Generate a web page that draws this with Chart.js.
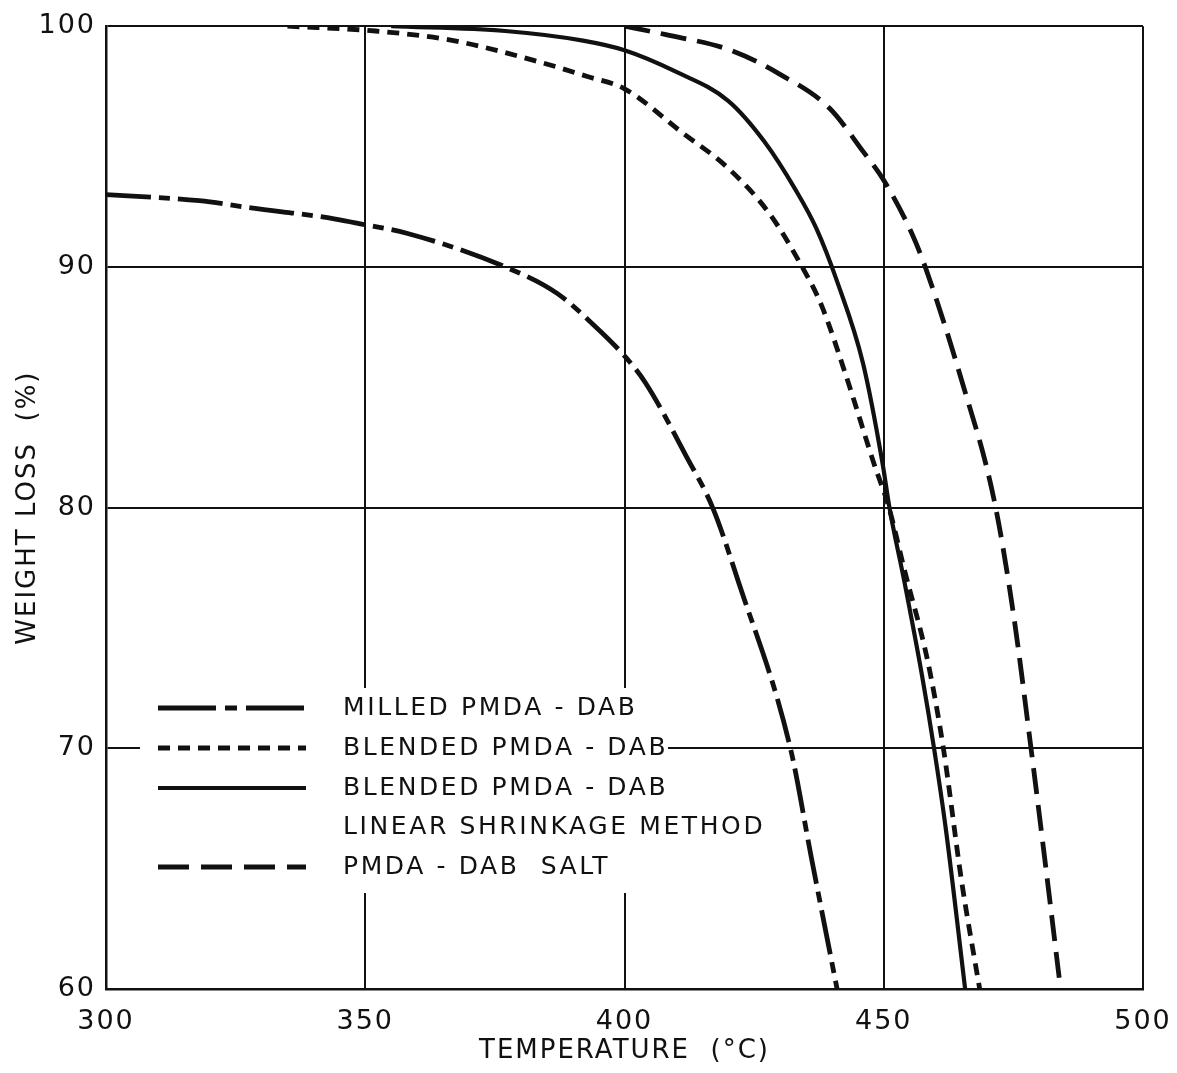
<!DOCTYPE html>
<html lang="en">
<head>
    <meta charset="UTF-8">
    <title>Weight Loss vs Temperature</title>
    <script src="https://cdn.jsdelivr.net/npm/chart.js"></script>
    <style>
        body {
            margin: 0;
            padding: 0;
            background: #ffffff;
        }
        #wrap {
            width: 1177px;
            height: 1073px;
        }
    </style>
</head>
<body>
    <div id="wrap">
        <canvas id="tgaChart" width="1177" height="1073"></canvas>
    </div>

    <script>
        // Axis ticks
        const xTicks = [300, 350, 400, 450, 500];
        const yTicks = [60, 70, 80, 90, 100];

        // Milled PMDA-DAB (dash-dot)
        const milledTemp   = [300, 318, 328, 344, 350, 358, 377, 387, 394, 400, 404, 412, 417, 422, 432, 436, 441];
        const milledWeight = [93.0, 92.75, 92.45, 92.0, 91.75, 91.4, 90.0, 88.9, 87.6, 86.3, 85.2, 82.1, 80.0, 76.9, 70.0, 65.5, 60.0];

        // Blended PMDA-DAB (short dash)
        const blendedTemp   = [335, 352, 367, 383, 393, 400, 411, 420, 428, 434, 438, 443, 448, 451, 454, 458.5, 461.5, 465, 468.5];
        const blendedWeight = [100, 99.8, 99.4, 98.55, 97.9, 97.4, 95.6, 94.1, 92.2, 90.1, 88.4, 85.3, 81.9, 80.0, 77.4, 73.6, 70.0, 64.5, 60.0];

        // Blended PMDA-DAB, linear shrinkage method (solid)
        const shrinkTemp   = [355, 377, 392, 400, 410, 420, 427, 433, 437, 441, 446, 449.8, 451.1, 454, 457.4, 459.7, 462, 465.7];
        const shrinkWeight = [100, 99.8, 99.4, 99.0, 98.1, 96.9, 95.2, 93.2, 91.6, 89.4, 86.0, 81.8, 80.0, 76.9, 73.0, 70.0, 66.6, 60.0];

        // PMDA-DAB salt (long dash)
        const saltTemp   = [400, 408, 420.5, 430, 439.5, 446, 450, 455.4, 458, 465, 471.3, 475, 478.4, 481, 484.1];
        const saltWeight = [100, 99.65, 99.0, 98.0, 96.6, 94.8, 93.6, 91.4, 90.0, 85.3, 80.3, 75.6, 70.0, 65.5, 60.0];

        const legendLabels = [
            ['MILLED PMDA - DAB'],
            ['BLENDED PMDA - DAB'],
            ['BLENDED PMDA - DAB', 'LINEAR SHRINKAGE METHOD'],
            ['PMDA - DAB  SALT']
        ];

        const FONT = "'DejaVu Sans', 'Liberation Sans', sans-serif";
        const INK = '#111111';

        function toPoints(xs, ys) {
            return xs.map((x, i) => ({ x: x, y: ys[i] }));
        }

        function curve(label, xs, ys, dash, width) {
            return {
                label: label,
                data: toPoints(xs, ys),
                borderColor: INK,
                borderWidth: width,
                borderDash: dash,
                borderCapStyle: 'butt',
                pointRadius: 0,
                fill: false,
                cubicInterpolationMode: 'monotone'
            };
        }

        const styles = [
            { dash: [45, 8, 11, 8], sample: [58, 9, 12, 9], width: 4.8 },
            { dash: [12, 8], sample: [12, 8], width: 4.8 },
            { dash: [], sample: [], width: 4.2 },
            { dash: [26, 11], sample: [31, 12], width: 4.8 }
        ];

        // Wider lettering for all canvas text
        const letterSpacingPlugin = {
            id: 'letterSpacing',
            beforeDraw(chart) {
                chart.ctx.letterSpacing = '2px';
            }
        };

        // Legend block drawn inside the plot, blanking the grid behind it
        const insetLegend = {
            id: 'insetLegend',
            beforeDatasetsDraw(chart) {
                const ctx = chart.ctx;
                const rows = [708, 748, 788, 867];
                ctx.save();
                ctx.fillStyle = '#ffffff';
                ctx.fillRect(140, 688, 528, 205);

                ctx.strokeStyle = INK;
                ctx.fillStyle = INK;
                ctx.font = "25px " + FONT;
                ctx.letterSpacing = '2.6px';
                ctx.textBaseline = 'middle';
                ctx.textAlign = 'left';
                legendLabels.forEach((lines, i) => {
                    const y = rows[i];
                    ctx.lineWidth = styles[i].width;
                    ctx.lineCap = 'butt';
                    ctx.setLineDash(styles[i].sample);
                    ctx.beginPath();
                    ctx.moveTo(158, y);
                    ctx.lineTo(306, y);
                    ctx.stroke();
                    lines.forEach((txt, j) => {
                        ctx.fillText(txt, 343, y + j * 39);
                    });
                });
                ctx.restore();
            }
        };

        const ctx = document.getElementById('tgaChart').getContext('2d');
        new Chart(ctx, {
            type: 'line',
            data: {
                datasets: [
                    curve(legendLabels[0].join(' '), milledTemp, milledWeight, styles[0].dash, styles[0].width),
                    curve(legendLabels[1].join(' '), blendedTemp, blendedWeight, styles[1].dash, styles[1].width),
                    curve(legendLabels[2].join(' '), shrinkTemp, shrinkWeight, styles[2].dash, styles[2].width),
                    curve(legendLabels[3].join(' '), saltTemp, saltWeight, styles[3].dash, styles[3].width)
                ]
            },
            options: {
                responsive: false,
                animation: false,
                layout: {
                    padding: { top: 25, right: 34, bottom: 0, left: 0 }
                },
                plugins: {
                    legend: { display: false },
                    tooltip: { enabled: false }
                },
                scales: {
                    x: {
                        type: 'linear',
                        min: xTicks[0],
                        max: xTicks[xTicks.length - 1],
                        afterBuildTicks(scale) {
                            scale.ticks = xTicks.map(v => ({ value: v }));
                        },
                        afterFit(scale) {
                            scale.height = 84;
                            // the layout padding already leaves room for the end labels
                            scale.paddingLeft = 0;
                            scale.paddingRight = 0;
                        },
                        grid: {
                            color: INK,
                            lineWidth: 2,
                            drawTicks: false
                        },
                        border: { color: INK, width: 2.5 },
                        ticks: {
                            color: INK,
                            padding: 17,
                            maxRotation: 0,
                            font: { family: FONT, size: 27 }
                        },
                        title: {
                            display: true,
                            text: 'TEMPERATURE  (°C)',
                            color: INK,
                            padding: { top: 0, bottom: 6 },
                            font: { family: FONT, size: 26 }
                        }
                    },
                    y: {
                        type: 'linear',
                        min: yTicks[0],
                        max: yTicks[yTicks.length - 1],
                        afterBuildTicks(scale) {
                            scale.ticks = yTicks.map(v => ({ value: v }));
                        },
                        afterFit(scale) {
                            scale.width = 106;
                        },
                        grid: {
                            color: INK,
                            lineWidth: 2,
                            drawTicks: false
                        },
                        border: { color: INK, width: 2.5 },
                        ticks: {
                            color: INK,
                            padding: 10,
                            font: { family: FONT, size: 27 }
                        },
                        title: {
                            display: true,
                            text: 'WEIGHT LOSS  (%)',
                            color: INK,
                            padding: { top: 13, bottom: 0 },
                            font: { family: FONT, size: 26 }
                        }
                    }
                }
            },
            plugins: [letterSpacingPlugin, insetLegend]
        });
    </script>
</body>
</html>
